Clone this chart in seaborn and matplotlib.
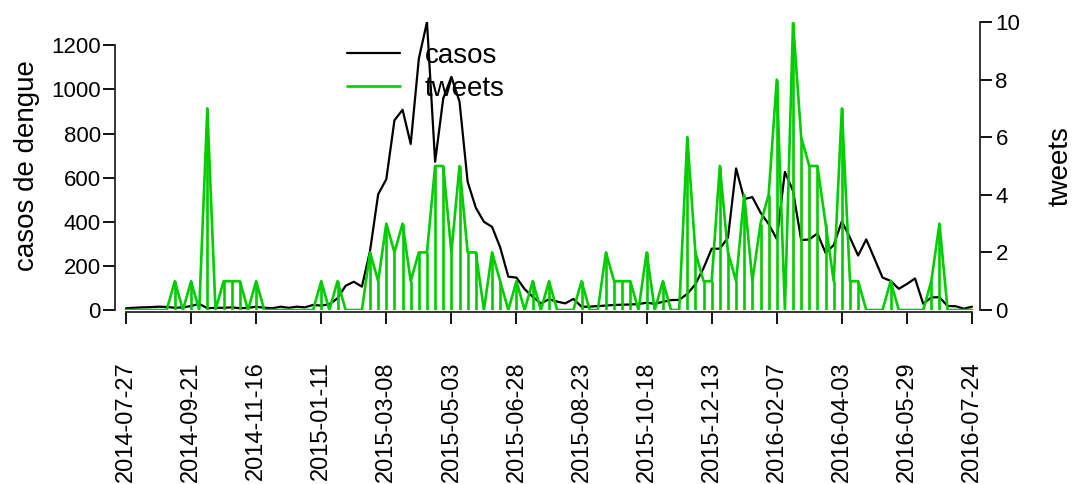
import matplotlib
matplotlib.use("Agg")
import matplotlib.pyplot as plt
import matplotlib.dates as mdates
import seaborn as sns
import pandas as pd
import numpy as np

# ---- data (weekly) ----
start_date = "2014-07-27"
n_weeks = 105
casos = [8, 10, 12, 13, 15, 14, 10, 12, 18, 28,
         8, 10, 10, 12, 8, 10, 15, 10, 8, 15,
         10, 15, 12, 23, 20, 26, 53, 110, 128, 106,
         268, 525, 593, 860, 908, 753, 1140, 1306, 672, 960,
         1057, 945, 581, 464, 400, 377, 284, 151, 147, 95,
         60, 30, 49, 38, 30, 50, 15, 15, 18, 20,
         23, 24, 25, 27, 33, 28, 37, 45, 46, 73,
         117, 190, 278, 278, 328, 642, 503, 512, 442, 390,
         322, 626, 540, 317, 320, 347, 259, 294, 402, 328,
         247, 320, 234, 147, 132, 96, 118, 143, 28, 57,
         58, 18, 17, 6, 15]
tweets = [0, 0, 0, 0, 0, 0, 1, 0, 1, 0,
          7, 0, 1, 1, 1, 0, 1, 0, 0, 0,
          0, 0, 0, 0, 1, 0, 1, 0, 0, 0,
          2, 1, 3, 2, 3, 1, 2, 2, 5, 5,
          2, 5, 2, 2, 0, 2, 1, 0, 1, 0,
          1, 0, 1, 0, 0, 0, 1, 0, 0, 2,
          1, 1, 1, 0, 2, 0, 1, 0, 0, 6,
          2, 1, 1, 5, 2, 1, 4, 1, 3, 4,
          8, 0, 10, 6, 5, 5, 3, 1, 7, 1,
          1, 0, 0, 0, 1, 0, 0, 0, 0, 1,
          3, 0, 0, 0, 0]
tick_labels = ["2014-07-27", "2014-09-21", "2014-11-16", "2015-01-11",
               "2015-03-08", "2015-05-03", "2015-06-28", "2015-08-23",
               "2015-10-18", "2015-12-13", "2016-02-07", "2016-04-03",
               "2016-05-29", "2016-07-24"]
left_ticks = [0, 200, 400, 600, 800, 1000, 1200]
right_ticks = [0, 2, 4, 6, 8, 10]

dates = pd.date_range(start_date, periods=n_weeks, freq="7D")
df = pd.DataFrame({"semana": dates, "casos": casos, "tweets": tweets})

sns.set_style("ticks")
plt.rcParams["font.family"] = ["Liberation Sans", "DejaVu Sans"]
plt.rcParams["text.color"] = "black"
plt.rcParams["axes.labelcolor"] = "black"
plt.rcParams["xtick.color"] = "black"
plt.rcParams["ytick.color"] = "black"

W, H = 1074, 484
fig = plt.figure(figsize=(W / 100, H / 100), dpi=100)
ax = fig.add_axes([115 / W, 1 - 310 / H, (980 - 115) / W, 288 / H])

GREEN = "#00CD00"
sns.lineplot(data=df, x="semana", y="casos", ax=ax, color="black",
             linewidth=1.6, label="casos", legend=False)
ax2 = ax.twinx()
sns.lineplot(data=df, x="semana", y="tweets", ax=ax2, color=GREEN,
             linewidth=1.9, label="tweets", legend=False)
ax2.vlines(df["semana"], 0, df["tweets"], color=GREEN, linewidth=1.9)

d0 = mdates.date2num(dates[0])
d1 = mdates.date2num(dates[-1])
day_px = 846 / (d1 - d0)
ax.set_ylim(0, max(casos))
ax2.set_ylim(0, 10)
ax.set_xlim(d0 - 11 / day_px, d1 + 8 / day_px)

TL = 12 * 0.72
ax.set_yticks(left_ticks, [str(t) for t in left_ticks])
ax2.set_yticks(right_ticks, [str(t) for t in right_ticks])
ax.set_xticks(mdates.date2num(dates[::8]), tick_labels)

ax.tick_params(axis="y", direction="out", length=TL, width=1.3, pad=1.5,
               labelsize=16, colors="black")
ax2.tick_params(axis="y", direction="out", length=TL, width=1.3, pad=2.5,
                labelsize=16, colors="black")
ax.tick_params(axis="x", direction="out", length=TL, width=1.3, pad=27,
               labelsize=17, colors="black", labelrotation=90)

for a in (ax, ax2):
    for s in a.spines.values():
        s.set_visible(False)
ax.spines["left"].set_visible(True)
ax.spines["left"].set_bounds(0, 1200)
ax.spines["left"].set_linewidth(1.3)
ax.spines["bottom"].set_visible(True)
ax.spines["bottom"].set_bounds(d0, d1)
ax.spines["bottom"].set_position(("outward", 1.5))
ax.spines["bottom"].set_linewidth(1.3)
ax2.spines["right"].set_visible(True)
ax2.spines["right"].set_bounds(0, 10)
ax2.spines["right"].set_linewidth(1.3)

ax.set_xlabel("")
ax.set_ylabel("")
ax2.set_ylabel("")
fig.text(27 / W, 1 - 166 / H, "casos de dengue", rotation=90,
         ha="center", va="center", fontsize=20)
fig.text(1061 / W, 1 - 166 / H, "tweets", rotation=90,
         ha="center", va="center", fontsize=20)

h1 = ax.lines[0]
h2 = ax2.lines[0]
leg = ax.legend([h1, h2], ["casos", "tweets"], frameon=False, fontsize=20,
                loc="center left",
                bbox_to_anchor=(347 / W, 1 - 72.5 / H),
                bbox_transform=fig.transFigure,
                borderpad=0, borderaxespad=0, handlelength=1.9,
                handletextpad=0.9, labelspacing=0.25)
leg.set_zorder(0)

fig.savefig("out.png", dpi=100)
